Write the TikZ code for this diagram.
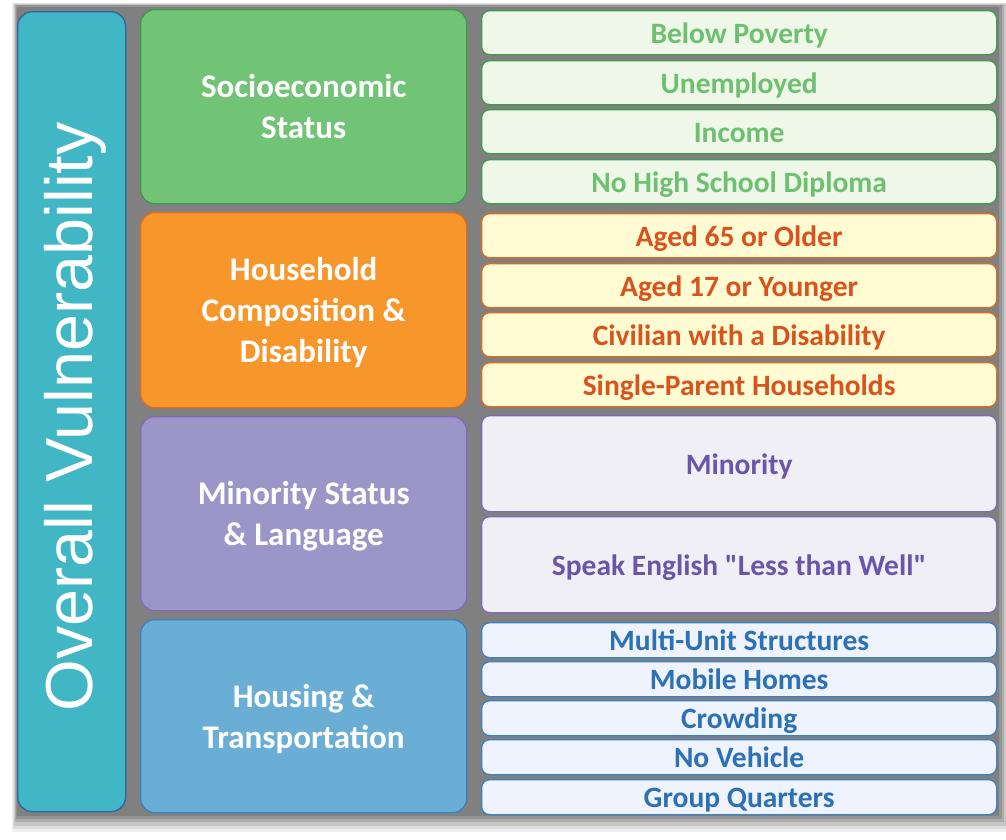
\documentclass[tikz,border=0pt]{standalone}
\usepackage{fontspec}
\setmainfont{Carlito}
\newfontfamily\arialf{Liberation Sans}
\definecolor{panel}{HTML}{808080}
\definecolor{tealF}{HTML}{41B6C4}
\definecolor{tealD}{HTML}{2E64A8}
\definecolor{grnF}{HTML}{71C375}
\definecolor{grnD}{HTML}{3E9A4B}
\definecolor{grnL}{HTML}{EEF7E8}
\definecolor{grnT}{HTML}{6CC070}
\definecolor{orgF}{HTML}{F7972B}
\definecolor{orgD}{HTML}{E06A1E}
\definecolor{orgL}{HTML}{FFFBD2}
\definecolor{orgT}{HTML}{D9531E}
\definecolor{purF}{HTML}{9C96C8}
\definecolor{purD}{HTML}{7F6BB5}
\definecolor{purL}{HTML}{F0EFF6}
\definecolor{purT}{HTML}{6A56A8}
\definecolor{bluF}{HTML}{6AAED6}
\definecolor{bluD}{HTML}{3B80C2}
\definecolor{bluL}{HTML}{EEF3FD}
\definecolor{bluT}{HTML}{2C70B5}
\newcommand\catlines[1]{\begin{tabular}{@{}c@{}}\rule{0pt}{35pt}#1\end{tabular}}
\tikzset{
  catbox/.style={draw, line width=1.3pt, rounded corners=14pt, anchor=north west,
    minimum width=326pt, inner sep=0pt, text=white,
    font=\fontsize{33}{41}\selectfont\bfseries},
  itembox/.style={draw, line width=1.3pt, rounded corners=8pt, anchor=north west,
    minimum width=515pt, inner sep=0pt, align=center, text height=28pt, text depth=7pt,
    font=\fontsize{29.5}{30}\selectfont\bfseries},
  grnitem/.style={itembox, fill=grnL, draw=grnD, text=grnT},
  orgitem/.style={itembox, fill=orgL, draw=orgD, text=orgT},
  puritem/.style={itembox, fill=purL, draw=purD, text=purT},
  bluitem/.style={itembox, fill=bluL, draw=bluD, text=bluT},
}
\begin{document}
\begin{tikzpicture}[x=1pt,y=-1pt]
\useasboundingbox (0,0) rectangle (1006,839);
\fill[white] (0,0) rectangle (1006,839);
% soft shadow of panel
\foreach \i/\o in {10/0.06,8/0.08,6/0.1,4/0.12,2/0.15}{
  \fill[black,opacity=\o] (17-\i/2,6-\i/3) rectangle (1000+\i,816+\i*1.6);
}
\fill[panel] (17,7) rectangle (999,816);
% overall box
\node[draw=tealD, fill=tealF, line width=1.3pt, rounded corners=15pt, anchor=north west,
  minimum width=108pt, minimum height=800pt, inner sep=0pt] (overall) at (17,11) {};
\node[rotate=90, text=white, font=\arialf\fontsize{66.5}{66.5}\selectfont] (overallt) at ([xshift=4pt,yshift=-5pt]overall.center) {Overall Vulnerability};
% categories
\node[catbox, fill=grnF, draw=grnD, minimum height=194pt] (ses) at (140,9) {\catlines{Socioeconomic\\Status}};
\node[catbox, fill=orgF, draw=orgD, minimum height=195pt] (hh) at (140,212) {\catlines{Household\\Composition \&\\Disability}};
\node[catbox, fill=purF, draw=purD, minimum height=194pt] (min) at (140,416) {\catlines{Minority Status\\\& Language}};
\node[catbox, fill=bluF, draw=bluD, minimum height=193pt] (hou) at (140,619) {\catlines{Housing \&\\Transportation}};
% green items
\node[grnitem, minimum height=44pt] (g1) at (481,10) {Below Poverty};
\node[grnitem, minimum height=44pt] (g2) at (481,60) {Unemployed};
\node[grnitem, minimum height=44pt] (g3) at (481,109) {Income};
\node[grnitem, minimum height=44pt] (g4) at (481,159) {No High School Diploma};
% orange items
\node[orgitem, minimum height=44pt] (o1) at (481,213) {Aged 65 or Older};
\node[orgitem, minimum height=44pt] (o2) at (481,263) {Aged 17 or Younger};
\node[orgitem, minimum height=44pt] (o3) at (481,312) {Civilian with a Disability};
\node[orgitem, minimum height=44pt] (o4) at (481,362) {Single-Parent Households};
% purple items
\node[puritem, minimum height=96pt] (p1) at (481,415) {Minority};
\node[puritem, minimum height=96pt] (p2) at (481,516) {Speak English \textquotedbl Less than Well\textquotedbl};
% blue items
\node[bluitem, minimum height=33pt] (b1) at (481,622) {Multi-Unit Structures};
\node[bluitem, minimum height=33pt] (b2) at (481,661) {Mobile Homes};
\node[bluitem, minimum height=34pt] (b3) at (481,700) {Crowding};
\node[bluitem, minimum height=34pt] (b4) at (481,739) {No Vehicle};
\node[bluitem, minimum height=33pt] (b5) at (481,779) {Group Quarters};
\end{tikzpicture}
\end{document}
